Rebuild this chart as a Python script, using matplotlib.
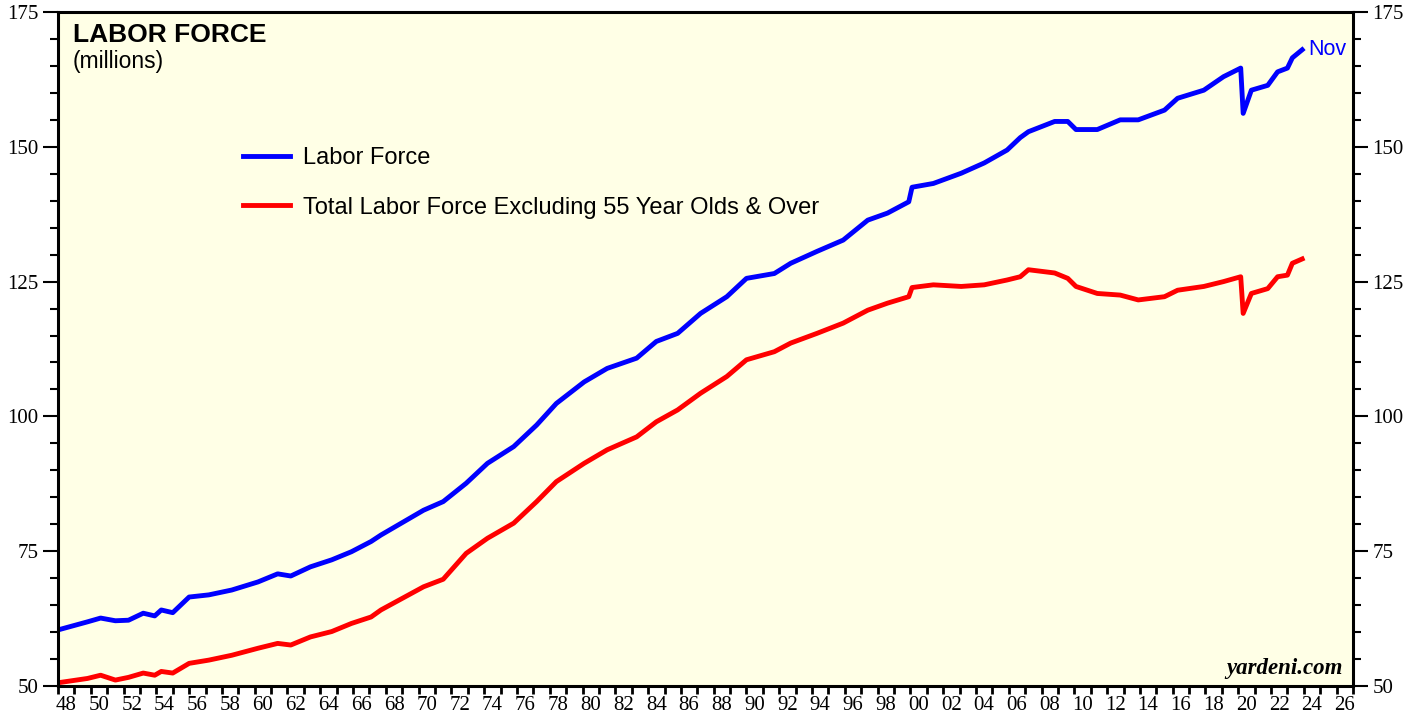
import matplotlib
matplotlib.use("Agg")
import matplotlib.pyplot as plt

# values (decimal year, millions)
years = [1948.0, 1949.8, 1950.6, 1951.5, 1952.3, 1953.2, 1953.9, 1954.3, 1955.0,
         1956.0, 1957.2, 1958.6, 1960.2, 1961.4, 1962.2, 1963.4, 1964.7, 1965.9,
         1967.1, 1967.7, 1970.3, 1971.5, 1972.9, 1974.2, 1975.8, 1977.2, 1978.4,
         1980.1, 1981.5, 1983.3, 1984.5, 1985.8, 1987.2, 1988.8, 1990.0, 1991.7,
         1992.7, 1994.3, 1995.9, 1997.4, 1998.6, 1999.9, 2000.1, 2001.4, 2003.1,
         2004.5, 2005.9, 2006.7, 2007.2, 2008.8, 2009.6, 2010.1, 2011.4, 2012.8,
         2013.9, 2015.5, 2016.3, 2017.9, 2019.1, 2020.15, 2020.3, 2020.8, 2021.8,
         2022.4, 2023.0, 2023.3, 2023.9]

labor_force = [60.4, 61.9, 62.6, 62.1, 62.2, 63.5, 63.0, 64.1, 63.6,
               66.5, 66.9, 67.8, 69.3, 70.8, 70.4, 72.1, 73.4, 74.9,
               76.8, 78.0, 82.6, 84.2, 87.6, 91.3, 94.4, 98.4, 102.4,
               106.4, 108.9, 110.8, 113.9, 115.4, 119.1, 122.2, 125.6, 126.5,
               128.4, 130.6, 132.7, 136.4, 137.7, 139.8, 142.5, 143.2, 145.1,
               147.0, 149.4, 151.7, 152.8, 154.7, 154.7, 153.2, 153.2, 155.0,
               155.0, 156.8, 159.0, 160.5, 163.0, 164.6, 156.2, 160.5, 161.4,
               163.9, 164.6, 166.5, 168.0]

excl_55_over = [50.6, 51.4, 52.0, 51.1, 51.6, 52.4, 52.0, 52.7, 52.4,
                54.2, 54.8, 55.7, 57.0, 57.9, 57.6, 59.1, 60.1, 61.6,
                62.8, 64.1, 68.4, 69.8, 74.6, 77.4, 80.2, 84.2, 87.9,
                91.3, 93.8, 96.2, 99.0, 101.2, 104.3, 107.4, 110.5, 112.0,
                113.6, 115.4, 117.3, 119.7, 121.0, 122.2, 123.9, 124.4, 124.1,
                124.4, 125.3, 125.9, 127.2, 126.6, 125.6, 124.1, 122.8, 122.5,
                121.6, 122.2, 123.4, 124.1, 125.0, 125.9, 119.1, 122.8, 123.7,
                125.9, 126.2, 128.4, 129.2]

fig = plt.figure(figsize=(14.09, 7.19), dpi=100)
ax = fig.add_axes([58/1409, 1 - 686/719, (1353 - 58)/1409, (686 - 12)/719])
ax.set_facecolor("#ffffe6")

ax.plot(years, labor_force, color="#0000ff", lw=3.5, label="Labor Force")
ax.plot(years, excl_55_over, color="#ff0000", lw=3.5,
        label="Total Labor Force Excluding 55 Year Olds & Over")

ax.set_xlim(1948, 2027)
ax.set_ylim(50, 175)

# x axis: a tick for every year, labels in the middle of even years
ax.set_xticks(range(1948, 2028))
ax.set_xticklabels([])
lab_pos = [y + 0.5 for y in range(1948, 2027, 2)]
ax.set_xticks(lab_pos, minor=True)
ax.set_xticklabels(["%02d" % (y % 100) for y in range(1948, 2027, 2)], minor=True)
ax.tick_params(axis="x", which="major", direction="out", length=6, width=2)
ax.tick_params(axis="x", which="minor", length=0, pad=7)

ax.set_yticks(range(50, 176, 25))
ax.set_yticks(range(50, 176, 5), minor=True)
ax.tick_params(axis="y", which="major", direction="out", length=11, width=1.5,
               left=True, right=True, labelleft=True, labelright=True, pad=3)
ax.tick_params(axis="y", which="minor", direction="out", length=6, width=1.5,
               left=True, right=True)

for lbl in ax.get_xticklabels(minor=True) + ax.get_yticklabels():
    lbl.set_fontfamily("Liberation Serif")
    lbl.set_fontsize(15)

for s in ax.spines.values():
    s.set_linewidth(2.2)

ax.text(0.0116, 0.955, "LABOR FORCE", transform=ax.transAxes, fontsize=19,
        fontweight="bold", family="Liberation Sans", va="baseline")
ax.text(0.0116, 0.917, "(millions)", transform=ax.transAxes, fontsize=16.5,
        family="Liberation Sans", va="baseline")

ax.text(2023.9 + 0.4, 168.0, "Nov", color="#0000ff", fontsize=15.5,
        family="Liberation Sans", va="center", ha="left")

ax.text(0.992, 0.018, "yardeni.com", transform=ax.transAxes, fontsize=16.5,
        family="Liberation Serif", fontweight="bold", style="italic",
        ha="right", va="baseline")

leg = ax.legend(loc="upper left", bbox_to_anchor=(0.143, 0.80), frameon=False,
                prop={"family": "Liberation Sans", "size": 17},
                handlelength=2.0, handletextpad=0.55, labelspacing=1.18,
                borderpad=0, borderaxespad=0)

fig.savefig("out.png", dpi=100)
